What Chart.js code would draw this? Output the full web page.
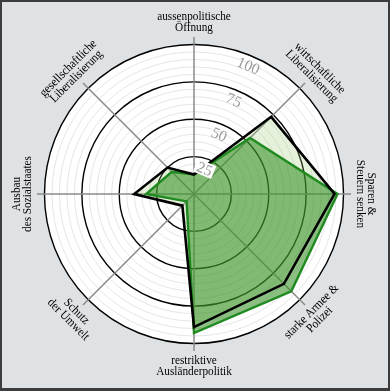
<!DOCTYPE html>
<html>
<head>
<meta charset="utf-8">
<script src="https://cdn.jsdelivr.net/npm/chart.js@4.4.1/dist/chart.umd.min.js"></script>
<style>
html,body{margin:0;padding:0;background:#dfe2e4;}
#wrap{position:relative;width:390px;height:391px;}
</style>
</head>
<body>
<div id="wrap"><canvas id="c"></canvas></div>
<script>
const categories = [
  ["aussenpolitische", "Öffnung"],
  ["wirtschaftliche", "Liberalisierung"],
  ["Sparen &", "Steuern senken"],
  ["starke Armee &", "Polizei"],
  ["restriktive", "Ausländerpolitik"],
  ["Schutz", "der Umwelt"],
  ["Ausbau", "des Sozialstaates"],
  ["gesellschaftliche", "Liberalisierung"]
];
const profileBlack = [13, 73, 94, 85, 89, 11, 40, 25];
const profileGreen = [13, 53, 96, 92, 93, 7, 32, 21];
const tickLabels = [25, 50, 75, 100];

const LABEL_FONT = '12.5px "Liberation Serif", "DejaVu Serif", serif';
const LABEL_SCALE_X = 0.9;

const decor = {
  id: 'decor',
  beforeDraw(chart) {
    const ctx = chart.ctx, s = chart.scales.r;
    ctx.save();
    ctx.fillStyle = '#dfe2e4';
    ctx.fillRect(0, 0, chart.width, chart.height);
    ctx.beginPath();
    ctx.arc(s.xCenter, s.yCenter, s.getDistanceFromCenterForValue(100), 0, Math.PI * 2);
    ctx.fillStyle = '#ffffff';
    ctx.fill();
    ctx.restore();
  },
  afterDraw(chart) {
    const ctx = chart.ctx, s = chart.scales.r;
    ctx.save();
    const a = 23 * Math.PI / 180;
    ctx.font = '15.5px "Liberation Serif", "DejaVu Serif", serif';
    ctx.textAlign = 'center';
    ctx.textBaseline = 'middle';
    tickLabels.forEach(v => {
      const r = s.getDistanceFromCenterForValue(v) - 10;
      const x = s.xCenter + r * Math.sin(a), y = s.yCenter - r * Math.cos(a);
      ctx.save();
      ctx.translate(x, y);
      ctx.rotate(a);
      if (v === 25) {
        const w = ctx.measureText(String(v)).width + 4;
        ctx.fillStyle = '#ffffff';
        ctx.fillRect(-w / 2, -7, w, 14);
      }
      ctx.fillStyle = '#9a9a9a';
      ctx.fillText(String(v), 0, 1);
      ctx.restore();
    });
    ctx.font = LABEL_FONT;
    ctx.fillStyle = '#000000';
    const D = s.drawingArea * 172 / 157;
    const lh = 11.5;
    categories.forEach((lines, i) => {
      const p = s.getPointPosition(i, D);
      const th = i * 360 / categories.length;
      const rot = (th > 90 && th < 270) ? th - 180 : (th > 180 ? th - 360 : th);
      ctx.save();
      ctx.translate(p.x, p.y);
      ctx.rotate(rot * Math.PI / 180);
      ctx.scale(LABEL_SCALE_X, 1);
      ctx.fillText(lines[0], 0, -lh / 2);
      ctx.fillText(lines[1], 0, lh / 2);
      ctx.restore();
    });
    ctx.fillStyle = '#3c3c3c';
    ctx.fillRect(0, 0, chart.width, 2);
    ctx.fillRect(0, chart.height - 3, chart.width, 3);
    ctx.fillRect(0, 0, 2, chart.height);
    ctx.fillRect(chart.width - 2, 0, 2, chart.height);
    ctx.restore();
  }
};

new Chart(document.getElementById('c'), {
  type: 'radar',
  data: {
    labels: categories.map(l => l.join(' ')),
    datasets: [
      {
        data: profileBlack,
        borderColor: '#000000',
        borderWidth: 2.6,
        borderJoinStyle: 'miter',
        fill: false,
        pointRadius: 0,
        order: 0
      },
      {
        data: profileGreen,
        borderColor: '#1f8a1f',
        backgroundColor: 'rgba(45,140,30,0.55)',
        borderWidth: 2.4,
        borderJoinStyle: 'miter',
        fill: true,
        pointRadius: 0,
        order: 1
      },
      {
        data: profileBlack,
        borderWidth: 0,
        borderColor: 'rgba(0,0,0,0)',
        backgroundColor: 'rgba(150,200,110,0.25)',
        fill: true,
        pointRadius: 0,
        order: 2
      }
    ]
  },
  options: {
    responsive: true,
    maintainAspectRatio: false,
    animation: false,
    layout: { padding: { left: 37, right: 39, top: 37, bottom: 40 } },
    plugins: { legend: { display: false }, tooltip: { enabled: false } },
    elements: { line: { tension: 0 } },
    scales: {
      r: {
        min: 0,
        max: 105,
        startAngle: 0,
        ticks: { display: false, stepSize: 5 },
        pointLabels: { display: false },
        grid: {
          circular: true,
          color: c => {
            const v = c.tick ? c.tick.value : 0;
            if (v > 100) return 'rgba(0,0,0,0)';
            return v % 25 === 0 ? '#000000' : '#e6e6e6';
          },
          lineWidth: c => {
            const v = c.tick ? c.tick.value : 0;
            return v % 25 === 0 ? 1.4 : 1;
          }
        },
        angleLines: { display: true, color: '#8a8a8a', lineWidth: 1.5 }
      }
    }
  },
  plugins: [decor]
});
</script>
</body>
</html>
